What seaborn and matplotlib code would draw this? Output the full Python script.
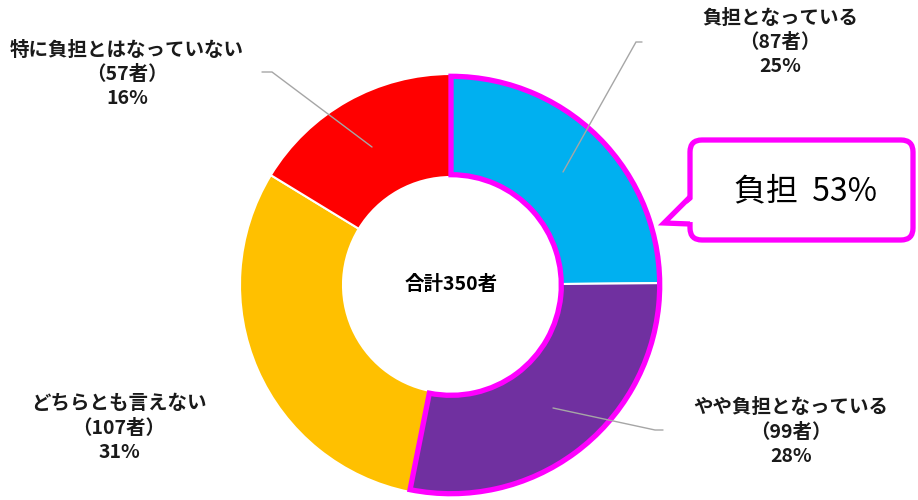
import matplotlib
matplotlib.use("Agg")
import matplotlib.pyplot as plt
import seaborn as sns
from matplotlib.patches import Wedge, FancyBboxPatch, Polygon

# ---- data ----
categories = ["負担となっている", "やや負担となっている", "どちらとも言えない", "特に負担とはなっていない"]
counts = [87, 99, 107, 57]
percents = ["25%", "28%", "31%", "16%"]
total_label = "合計350者"
callout_text = "負担  53%"
colors = ["#00B0F0", "#7030A0", "#FFC000", "#FF0000"]

sns.set_theme(style="white")
plt.rcParams["font.family"] = ["Noto Sans CJK JP", "DejaVu Sans"]
palette = sns.color_palette(colors)

W, H = 918, 500
fig = plt.figure(figsize=(W / 100, H / 100), dpi=100)
ax = fig.add_axes([0, 0, 1, 1])

def Y(py):
    return H - py

cx, cy = 451, Y(285)
R, ring = 211, 103

ax.pie(counts, colors=palette, startangle=90, counterclock=False,
       radius=R, center=(cx, cy),
       wedgeprops=dict(width=ring, edgecolor="white", linewidth=1.5))
ax.set_xlim(0, W)
ax.set_ylim(0, H)
ax.set_aspect("equal")
ax.axis("off")

# magenta outline around the "burden" group (first two slices)
tot = sum(counts)
span = 360 * (counts[0] + counts[1]) / tot
lw = 3.8
ax.add_patch(Wedge((cx, cy), R - 2.3, 90 - span, 90, width=ring - 4.6,
                   fill=False, edgecolor="#FF00FF", linewidth=lw, zorder=5,
                   joinstyle="miter"))

# center text
ax.text(cx, cy, total_label, ha="center", va="center", fontsize=14,
        fontweight="bold", color="black", zorder=6)

# labels
label_pos = [(780, 18), (791, 407), (119, 403), (127, 50)]
for cat, n, p, (lx, ly) in zip(categories, counts, percents, label_pos):
    ax.text(lx, Y(ly), cat, ha="center", va="center", fontsize=14,
            fontweight="bold", color="#1a1a1a")
    ax.text(lx, Y(ly + 25), f"（{n}者）", ha="center", va="center", fontsize=14,
            fontweight="bold", color="#1a1a1a")
    ax.text(lx, Y(ly + 49), p, ha="center", va="center", fontsize=14,
            fontweight="bold", color="#1a1a1a")

# leader lines
leaders = [
    [(563, 172), (636, 42), (642, 42)],
    [(553, 408), (655, 430), (663, 430)],
    [(372, 147), (272, 72), (262, 72)],
]
for pts in leaders:
    ax.plot([p[0] for p in pts], [Y(p[1]) for p in pts], color="#A6A6A6",
            linewidth=1.0, zorder=7, solid_joinstyle="miter")

# callout box
bx0, by0, bx1, by1 = 690, 140, 913, 240
ax.add_patch(FancyBboxPatch((bx0, Y(by1)), bx1 - bx0, by1 - by0,
                            boxstyle="round,pad=0,rounding_size=12",
                            facecolor="white", edgecolor="#FF00FF",
                            linewidth=lw, zorder=8))
tip = (664, 223)
ax.add_patch(Polygon([(bx0 + 3, Y(199)), (tip[0], Y(tip[1])), (bx0 + 3, Y(222))],
                     closed=True, facecolor="white", edgecolor="none", zorder=9))
ax.plot([bx0, tip[0], bx0], [Y(197), Y(tip[1]), Y(224)], color="#FF00FF",
        linewidth=lw, zorder=10, solid_joinstyle="miter", solid_capstyle="butt")
ax.text(806, Y(191), callout_text, ha="center", va="center",
        fontsize=23, color="black", zorder=11)

fig.savefig("out.png", dpi=100, facecolor="white")
